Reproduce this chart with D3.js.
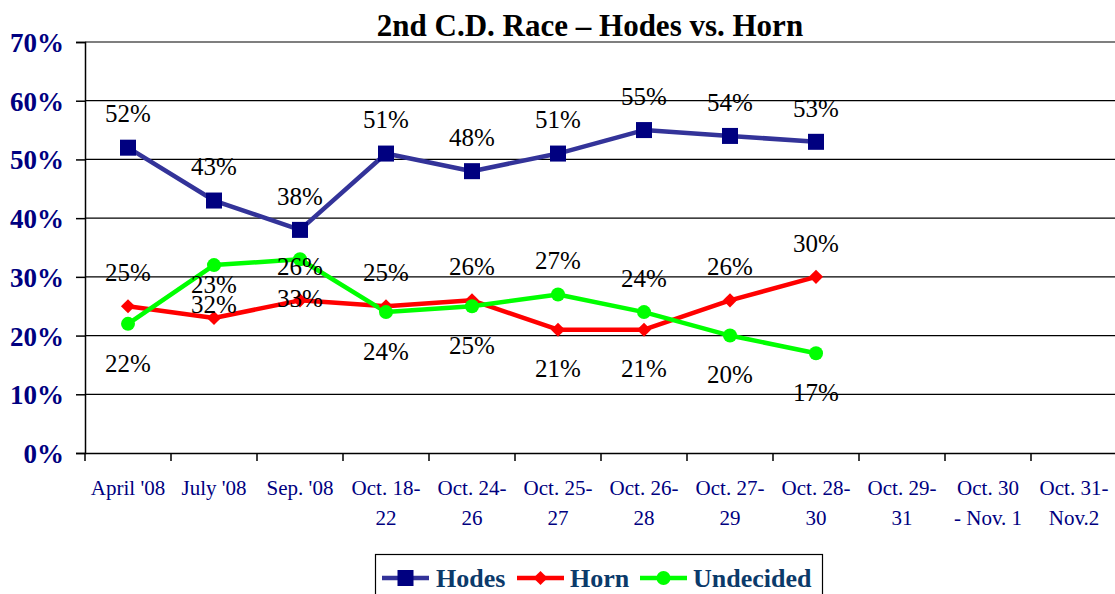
<!DOCTYPE html>
<html><head><meta charset="utf-8">
<script src="https://cdn.jsdelivr.net/npm/d3@7"></script>
<style>
html,body{margin:0;padding:0;background:#fff;}
svg{display:block;}
svg text{font-family:"Liberation Serif","Times New Roman",serif;}
</style></head>
<body>
<svg id="c" width="1115" height="594"></svg>
<script>
const title = "2nd C.D. Race \u2013 Hodes vs. Horn";
const categories = ["April '08","July '08","Sep. '08","Oct. 18-|22","Oct. 24-|26","Oct. 25-|27","Oct. 26-|28","Oct. 27-|29","Oct. 28-|30","Oct. 29-|31","Oct. 30|- Nov. 1","Oct. 31-|Nov.2"];
const hodes = [52,43,38,51,48,51,55,54,53];
const horn = [25,23,26,25,26,21,21,26,30];
const undecided = [22,32,33,24,25,27,24,20,17];
const hornLabelPos = ["above","above","above","above","above","below","below","above","above"];
const undecidedLabelPos = ["below","below","below","below","below","above","above","below","below"];
const yTicks = [0,10,20,30,40,50,60,70];
const seriesNames = ["Hodes","Horn","Undecided"];

const FONT = "Liberation Serif, Times New Roman, serif";
const svg = d3.select("#c");
const pL = 85, pR = 1117, pT = 42, pB = 453;
const x = d3.scaleBand().domain(categories).range([pL, pR]);
const y = d3.scaleLinear().domain([0,70]).range([pB, pT]);
const cx = i => x(categories[i]) + x.bandwidth()/2;

// title
svg.append("text").attr("x", 590).attr("y", 36).attr("text-anchor","middle")
  .attr("font-family",FONT).attr("font-weight","bold").attr("font-size", 31).attr("fill","#000").text(title);

// gridlines
svg.append("g").selectAll("line").data(yTicks.filter(d=>d>0)).join("line")
  .attr("x1", pL).attr("x2", pR).attr("y1", d=>y(d)).attr("y2", d=>y(d))
  .attr("stroke","#000").attr("stroke-width",1.2);

// y axis
const ya = svg.append("g").attr("transform",`translate(${pL},0)`)
  .call(d3.axisLeft(y).tickValues(yTicks).tickSize(9).tickFormat(d=>d+"%"));
ya.attr("font-family",FONT);
ya.select(".domain").attr("stroke","#000").attr("stroke-width",1.5);
ya.selectAll(".tick line").attr("stroke","#000").attr("stroke-width",1.5);
ya.selectAll(".tick text").attr("x",-21).attr("font-family",FONT)
  .attr("font-weight","bold").attr("font-size",27).attr("fill","#000080").attr("dy","0.35em");

// x axis
const xa = svg.append("g").attr("transform",`translate(0,${pB})`)
  .call(d3.axisBottom(x).tickSize(0).tickFormat(""));
xa.select(".domain").attr("stroke","#000").attr("stroke-width",1.5);
const edges = categories.map(c=>x(c)).concat([pR]);
svg.append("g").selectAll("line").data(edges).join("line")
  .attr("x1",d=>d).attr("x2",d=>d).attr("y1",pB).attr("y2",pB+8)
  .attr("stroke","#000").attr("stroke-width",1.5);
const xl = svg.append("g").selectAll("text").data(categories).join("text")
  .attr("text-anchor","middle").attr("font-family",FONT).attr("font-size",21).attr("fill","#000080")
  .attr("transform", d=>`translate(${x(d)+x.bandwidth()/2},${pB+42})`);
xl.each(function(d){
  const parts = d.split("|");
  d3.select(this).selectAll("tspan").data(parts).join("tspan")
    .attr("x",0).attr("dy",(p,i)=>i===0?0:30).text(p=>p);
});

// series
const line = d3.line().x((d,i)=>cx(i)).y(d=>y(d));
function drawSeries(vals, color, width){
  svg.append("path").datum(vals).attr("d", line).attr("fill","none")
    .attr("stroke", color).attr("stroke-width", width).attr("stroke-linejoin","round");
}
drawSeries(hodes, "#333399", 4.5);
drawSeries(horn, "#ff0000", 4.5);
drawSeries(undecided, "#00ff00", 4.5);

// markers
svg.append("g").selectAll("rect").data(hodes).join("rect")
  .attr("x",(d,i)=>cx(i)-8).attr("y",d=>y(d)-8).attr("width",16).attr("height",16).attr("fill","#000080");
const diamond = d3.symbol().type(d3.symbolSquare).size(100);
svg.append("g").selectAll("path").data(horn).join("path")
  .attr("d", diamond).attr("transform",(d,i)=>`translate(${cx(i)},${y(d)}) rotate(45)`).attr("fill","#ff0000");
svg.append("g").selectAll("circle").data(undecided).join("circle")
  .attr("cx",(d,i)=>cx(i)).attr("cy",d=>y(d)).attr("r",7).attr("fill","#00ff00");

// data labels
function labels(vals, pos){
  svg.append("g").selectAll("text").data(vals).join("text")
    .attr("x",(d,i)=>cx(i))
    .attr("y",(d,i)=> y(d) + ((pos ? pos[i] : "above")==="above" ? -34 : 39))
    .attr("dy","0.35em").attr("text-anchor","middle").attr("font-family",FONT)
    .attr("font-size",25).attr("fill","#000")
    .text(d=>d+"%");
}
labels(hodes, null);
labels(horn, hornLabelPos);
labels(undecided, undecidedLabelPos);

// legend
const lg = svg.append("g");
lg.append("rect").attr("x",375.5).attr("y",554.5).attr("width",447).attr("height",60)
  .attr("fill","#fff").attr("stroke","#000").attr("stroke-width",1.2);
const legendItems = [
  {name:seriesNames[0], color:"#333399", mark:"square", x0:382, tx:436},
  {name:seriesNames[1], color:"#ff0000", mark:"diamond", x0:517, tx:570},
  {name:seriesNames[2], color:"#00ff00", mark:"circle", x0:640, tx:693}
];
const ly = 578;
legendItems.forEach(it=>{
  lg.append("line").attr("x1",it.x0).attr("x2",it.x0+47).attr("y1",ly).attr("y2",ly)
    .attr("stroke",it.color).attr("stroke-width",4.5);
  const mx = it.x0+23.5;
  if(it.mark==="square") lg.append("rect").attr("x",mx-8).attr("y",ly-8).attr("width",16).attr("height",16).attr("fill","#000080");
  else if(it.mark==="diamond") lg.append("path").attr("d",diamond).attr("transform",`translate(${mx},${ly}) rotate(45)`).attr("fill","#ff0000");
  else lg.append("circle").attr("cx",mx).attr("cy",ly).attr("r",7).attr("fill","#00ff00");
  lg.append("text").attr("x",it.tx).attr("y",ly).attr("dy","0.35em").attr("font-family",FONT).attr("font-weight","bold")
    .attr("font-size",26).attr("fill","#0b3a6a").text(it.name);
});
</script>
</body></html>
